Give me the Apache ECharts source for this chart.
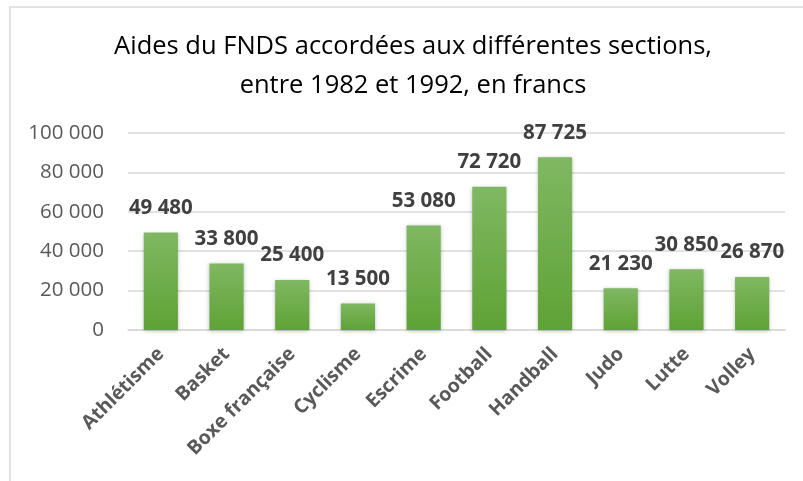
<!DOCTYPE html>
<html>
<head>
<meta charset="utf-8">
<script src="https://cdn.jsdelivr.net/npm/echarts@6/dist/echarts.min.js"></script>
<style>
  html, body { margin: 0; padding: 0; background: #fff; }
  #chart { width: 803px; height: 481px; }
</style>
</head>
<body>
<div id="chart"></div>
<script>
// données
const titre = 'Aides du FNDS accordées aux différentes sections,\nentre 1982 et 1992, en francs'
const sections = ['Athlétisme', 'Basket', 'Boxe française', 'Cyclisme', 'Escrime',
  'Football', 'Handball', 'Judo', 'Lutte', 'Volley']
const aides = [49480, 33800, 25400, 13500, 53080, 72720, 87725, 21230, 30850, 26870]
const yTicks = [0, 20000, 40000, 60000, 80000, 100000]

const fmt = v => String(v).replace(/\B(?=(\d{3})+(?!\d))/g, ' ')

const myChart = echarts.init(document.getElementById('chart'))

myChart.setOption({
  animation: false,
  textStyle: { fontFamily: 'Open Sans' },
  graphic: [{
    type: 'polyline',
    shape: { points: [[10, 481], [10, 7], [803, 7]] },
    style: { stroke: '#d9d9d9', lineWidth: 1.5, fill: null }
  }, {
    // titre centré sur la zone du graphique
    type: 'text',
    x: 413,
    y: 27,
    style: {
      text: titre,
      align: 'center',
      verticalAlign: 'top',
      fill: '#000',
      fontFamily: 'Open Sans',
      fontSize: 25.5,
      lineHeight: 39
    }
  }],
  grid: { left: 128, right: 18, top: 133, bottom: 151 },
  xAxis: {
    type: 'category',
    data: sections,
    axisTick: { show: false },
    axisLine: { lineStyle: { color: '#d9d9d9', width: 1.5 } },
    axisLabel: {
      rotate: 45,
      interval: 0,
      margin: 21,
      color: '#595959',
      fontWeight: 'bold',
      fontSize: 19.5
    }
  },
  yAxis: {
    type: 'value',
    min: yTicks[0],
    max: yTicks[yTicks.length - 1],
    interval: 20000,
    axisLine: { show: false },
    axisTick: { show: false },
    splitLine: { lineStyle: { color: '#d9d9d9', width: 1.5 } },
    axisLabel: {
      color: '#595959',
      fontSize: 20.5,
      margin: 24,
      formatter: v => fmt(v)
    }
  },
  series: [{
    type: 'bar',
    data: aides,
    barWidth: '52%',
    itemStyle: {
      color: new echarts.graphic.LinearGradient(0, 0, 0, 1, [
        { offset: 0, color: '#7fb862' },
        { offset: 1, color: '#5fa235' }
      ]),
      shadowColor: 'rgba(0,0,0,0.25)',
      shadowBlur: 4,
      shadowOffsetY: 1
    },
    label: {
      show: true,
      position: 'top',
      distance: 14,
      color: '#404040',
      fontWeight: 'bold',
      fontSize: 20.5,
      formatter: p => fmt(p.value)
    }
  }]
})

window.addEventListener('resize', () => myChart.resize(), false)
</script>
</body>
</html>
